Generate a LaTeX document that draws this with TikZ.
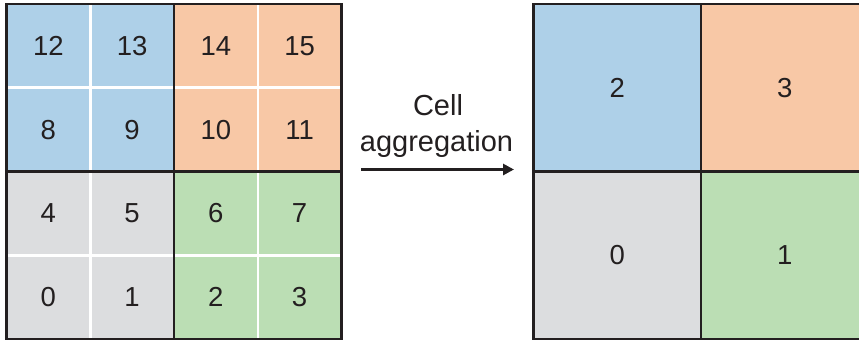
\documentclass[tikz,border=0pt]{standalone}
\usepackage{fontspec}
\setmainfont{Liberation Sans}
\usetikzlibrary{arrows.meta}
\definecolor{cblue}{HTML}{AED0E8}
\definecolor{corange}{HTML}{F8C8A6}
\definecolor{cgreen}{HTML}{BBDEB4}
\definecolor{cgray}{HTML}{DCDDDF}
\definecolor{cdark}{HTML}{231F20}
\tikzset{
  smallcell/.style={minimum width=83.75pt, minimum height=83.75pt, inner sep=0pt, draw=white, line width=2.5pt, text=cdark, font=\fontsize{27.5}{30}\selectfont},
  bigcell/.style={minimum width=167.5pt, minimum height=167.5pt, inner sep=0pt, draw=none, text=cdark, font=\fontsize{27.5}{30}\selectfont},
  gridline/.style={draw=cdark, line width=2.5pt},
  lbl/.style={anchor=base, inner sep=0pt, text=cdark, font=\fontsize{29}{35}\selectfont},
}
\begin{document}
\begin{tikzpicture}[x=1pt,y=-1pt]
\useasboundingbox (0,0) rectangle (859,342);
% left grid
\node[smallcell, fill=cblue] (c12) at (48.375,45.875) {12};
\node[smallcell, fill=cblue] (c13) at (132.125,45.875) {13};
\node[smallcell, fill=corange] (c14) at (215.875,45.875) {14};
\node[smallcell, fill=corange] (c15) at (299.625,45.875) {15};
\node[smallcell, fill=cblue] (c8) at (48.375,129.625) {8};
\node[smallcell, fill=cblue] (c9) at (132.125,129.625) {9};
\node[smallcell, fill=corange] (c10) at (215.875,129.625) {10};
\node[smallcell, fill=corange] (c11) at (299.625,129.625) {11};
\node[smallcell, fill=cgray] (c4) at (48.375,213.375) {4};
\node[smallcell, fill=cgray] (c5) at (132.125,213.375) {5};
\node[smallcell, fill=cgreen] (c6) at (215.875,213.375) {6};
\node[smallcell, fill=cgreen] (c7) at (299.625,213.375) {7};
\node[smallcell, fill=cgray] (c0) at (48.375,297.125) {0};
\node[smallcell, fill=cgray] (c1) at (132.125,297.125) {1};
\node[smallcell, fill=cgreen] (c2) at (215.875,297.125) {2};
\node[smallcell, fill=cgreen] (c3) at (299.625,297.125) {3};
\draw[gridline] (6.5,4) rectangle (341.5,339);
\draw[gridline] (174,4) -- (174,339);
\draw[gridline] (6.5,171.5) -- (341.5,171.5);
% right grid
\node[bigcell, fill=cblue] (d2) at (617.25,87.75) {2};
\node[bigcell, fill=corange] (d3) at (784.75,87.75) {3};
\node[bigcell, fill=cgray] (d0) at (617.25,255.25) {0};
\node[bigcell, fill=cgreen] (d1) at (784.75,255.25) {1};
\draw[gridline] (533.5,4) rectangle (868.5,339);
\draw[gridline] (701,4) -- (701,339);
\draw[gridline] (533.5,171.5) -- (868.5,171.5);
% label and arrow
\node[lbl] (lcell) at (438,116) {Cell};
\node[lbl] (lagg) at (436.5,151.5) {aggregation};
\coordinate (astart) at (361,169.5);
\coordinate (aend) at (514,169.5);
\draw[cdark, line width=3pt, -{Triangle[length=11pt,width=11pt]}] (astart) -- (aend);
\end{tikzpicture}
\end{document}
